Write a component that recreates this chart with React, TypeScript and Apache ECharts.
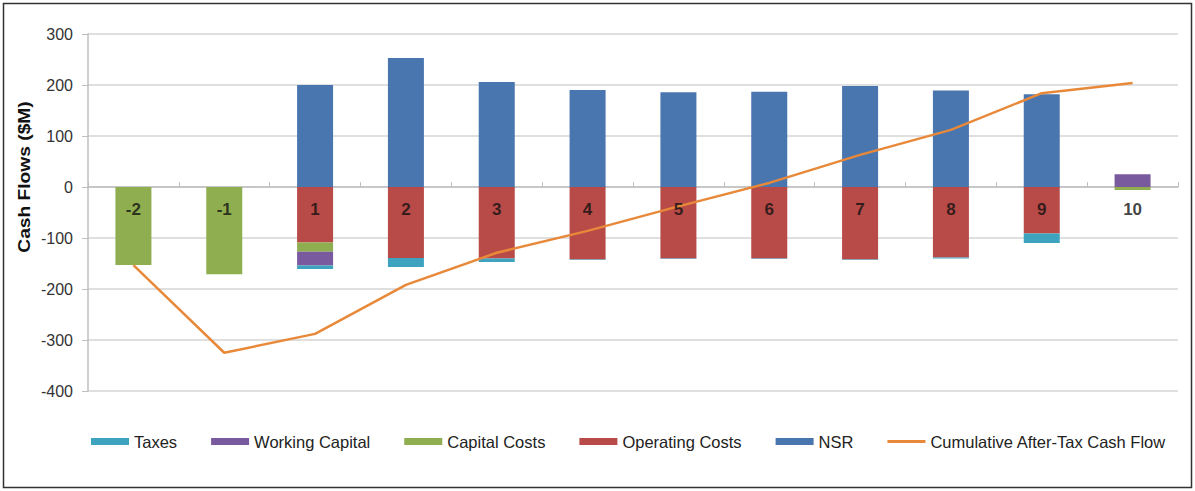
import React, { useEffect, useRef } from "react";
import * as echarts from "echarts";

const years = ["-2", "-1", "1", "2", "3", "4", "5", "6", "7", "8", "9", "10"];
const nsr = [0, 0, 200, 253, 206, 190, 186, 187, 198, 189, 182, 0];
const operatingCosts = [0, 0, -109, -139, -140, -142, -140, -140, -142, -138, -91, 0];
const capitalCosts = [-153, -171, -18, 0, 0, 0, 0, 0, 0, 0, 0, -6];
const workingCapital = [0, 0, -27, 0, 0, 0, 0, 0, 0, 0, 0, 25];
const taxes = [0, 0, -7, -18, -7, -1, -1, -1, -1, -2, -19, 0];
const cumulative = [-153, -325, -288, -192, -129, -86, -38, 8, 63, 112, 184, 204];
const yTicks = [-400, -300, -200, -100, 0, 100, 200, 300];
const yearLabelBase = years.map(() => 0);

const FONT = "'Liberation Sans', Arial, sans-serif";

export default function App() {
  const ref = useRef<HTMLDivElement>(null);
  useEffect(() => {
    if (!ref.current) return;
    const chart = echarts.init(ref.current, null, { renderer: "svg" });
    const bar = (name: string, data: number[], color: string) => ({
      name,
      type: "bar",
      stack: "cf",
      data,
      barWidth: 36,
      itemStyle: { color },
      emphasis: { disabled: true },
    });
    chart.setOption({
      animation: false,
      backgroundColor: "#ffffff",
      textStyle: { fontFamily: FONT },
      grid: { left: 88, right: 17, top: 34, bottom: 100, containLabel: false },
      legend: {
        left: 86,
        top: 428,
        itemWidth: 38,
        itemHeight: 7,
        itemGap: 34,
        textStyle: { fontSize: 16.5, color: "#222", fontFamily: FONT },
        data: [
          { name: "Taxes", icon: "rect" },
          { name: "Working Capital", icon: "rect" },
          { name: "Capital Costs", icon: "rect" },
          { name: "Operating Costs", icon: "rect" },
          { name: "NSR", icon: "rect" },
          { name: "Cumulative After-Tax Cash Flow", icon: "path://M0 0H40V3H0Z" },
        ],
      },
      xAxis: {
        type: "category",
        data: years,
        axisLine: { onZero: true, lineStyle: { color: "#bfbfbf", width: 1.5 } },
        axisTick: { show: true, inside: true, length: 5, lineStyle: { color: "#bfbfbf" } },
        axisLabel: { show: false },
        splitLine: { show: false },
      },
      yAxis: {
        type: "value",
        min: -400,
        max: 300,
        interval: 100,
        axisLine: { show: true, lineStyle: { color: "#bfbfbf", width: 1.5 } },
        axisTick: { show: true, length: 6, lineStyle: { color: "#bfbfbf" } },
        axisLabel: {
          fontSize: 16,
          color: "#333",
          margin: 15,
          fontFamily: FONT,
          formatter: (v: number) => (yTicks.includes(v) ? String(v) : ""),
        },
        splitLine: { show: true, lineStyle: { color: "#d4d4d4", width: 1.5 } },
      },
      series: [
        bar("NSR", nsr, "#4a76b0"),
        bar("Operating Costs", operatingCosts, "#b84a47"),
        bar("Capital Costs", capitalCosts, "#8fae4f"),
        bar("Working Capital", workingCapital, "#7a5a9e"),
        bar("Taxes", taxes, "#3da3bf"),
        {
          name: "Cumulative After-Tax Cash Flow",
          type: "line",
          data: cumulative,
          symbol: "none",
          z: 5,
          lineStyle: { color: "#e8893a", width: 2.5 },
          itemStyle: { color: "#e8893a" },
          emphasis: { disabled: true },
        },
        {
          name: "yearLabels",
          type: "scatter",
          data: yearLabelBase,
          symbol: "circle",
          symbolSize: 2,
          z: 10,
          silent: true,
          itemStyle: { color: "rgba(0,0,0,0)" },
          label: {
            show: true,
            position: "bottom",
            distance: 13,
            formatter: (p: any) => p.name,
            fontSize: 17,
            fontWeight: "bold",
            color: "#111",
            fontFamily: FONT,
          },
          labelLayout: { hideOverlap: false },
          emphasis: { disabled: true },
        },
      ],
      graphic: [
        {
          type: "rect",
          shape: { x: 3.5, y: 3.5, width: 1188, height: 484 },
          style: { fill: "none", stroke: "#333", lineWidth: 1.5 },
          silent: true,
        },
        {
          type: "text",
          x: 25,
          y: 177,
          rotation: Math.PI / 2,
          scaleX: 1.2,
          style: {
            text: "Cash Flows ($M)",
            fontSize: 16,
            fontWeight: "bold",
            fill: "#111",
            fontFamily: FONT,
            align: "center",
            verticalAlign: "middle",
          },
        },
      ],
    });
    return () => chart.dispose();
  }, []);
  return (
    <div
      ref={ref}
      style={{ position: "fixed", left: 0, top: 0, width: 1195, height: 491, background: "#fff" }}
    />
  );
}
